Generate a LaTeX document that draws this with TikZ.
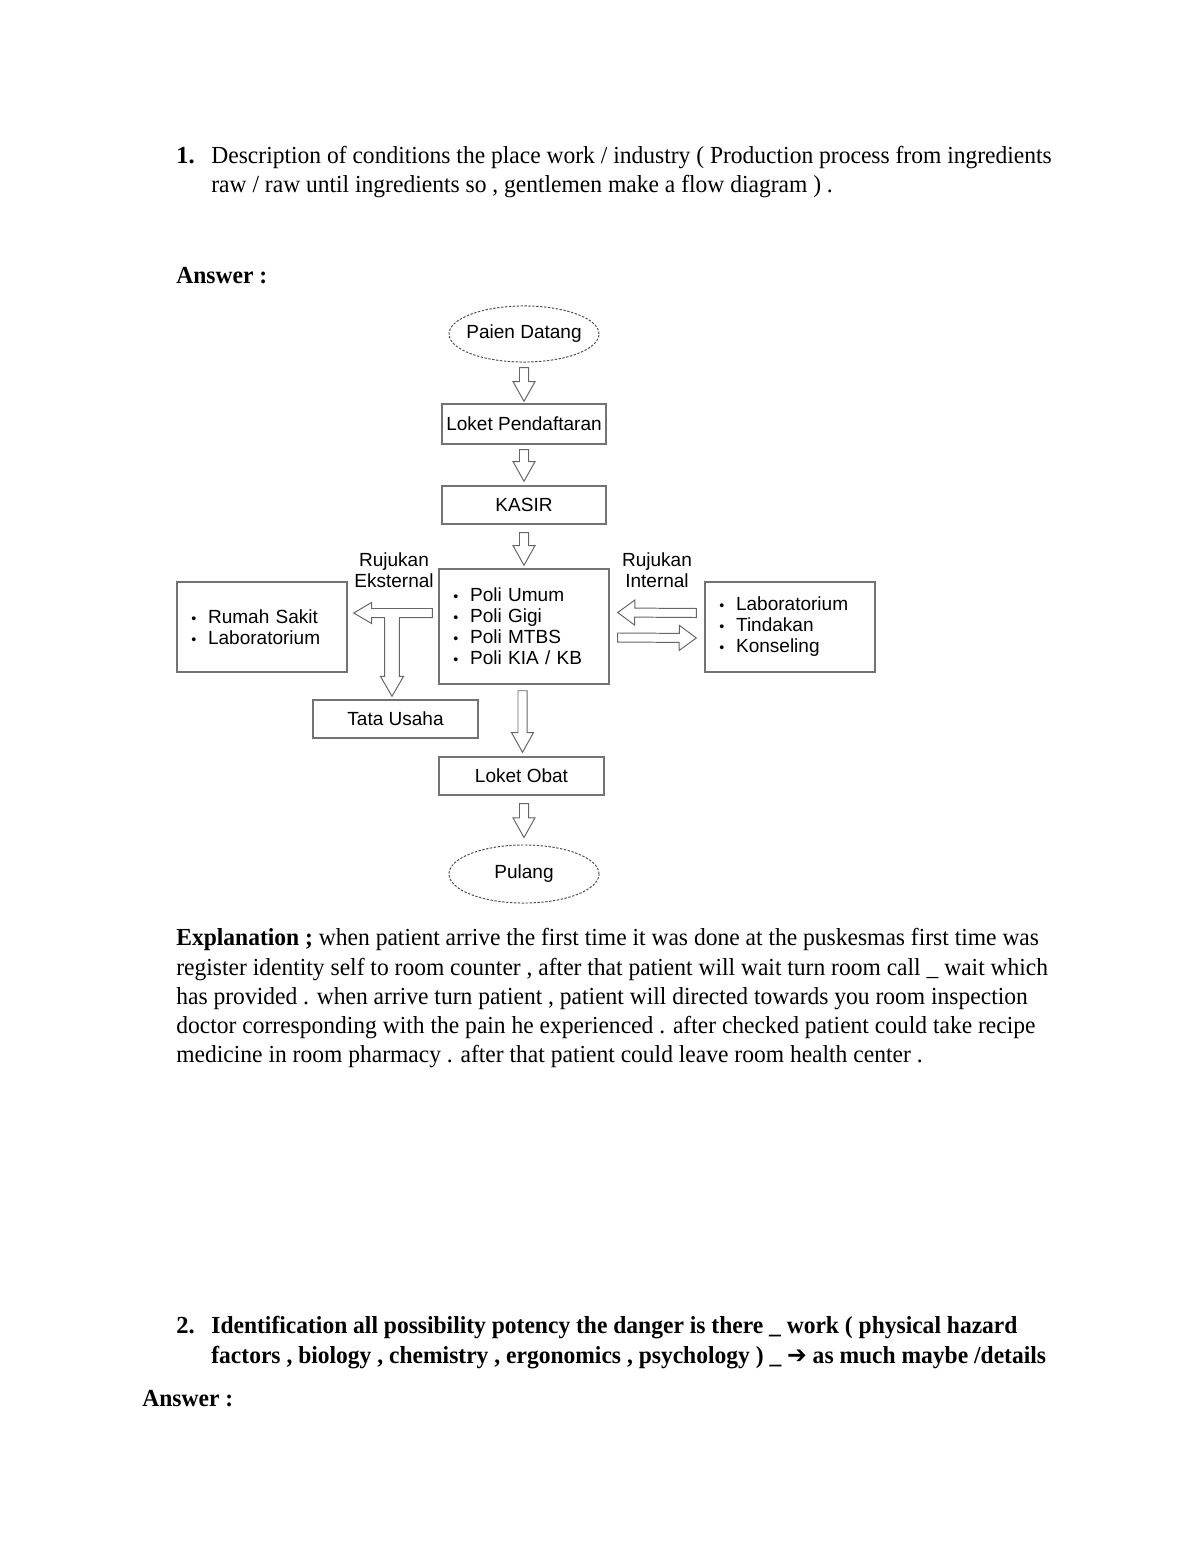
\documentclass[tikz,border=0pt]{standalone}
\usepackage{fontspec}
\setmainfont{Liberation Serif}
\newfontfamily\diagfont{Liberation Sans}
\newfontfamily\arrowfont{DejaVu Sans}
\usetikzlibrary{shapes.geometric,calc}

\newcommand\itm[1]{\makebox[8.5pt][l]{\scalebox{.75}{•}}#1}
\newcommand\cond[1]{\scalebox{.96}[1]{#1}}

\tikzset{
  shaft/.store in=\shaftw, shaft=2.3pt,
  head/.store in=\headw, head=5.6pt,
  headlen/.store in=\headl, headlen=10pt,
  hollow/.style={draw=black!60, fill=white, line width=.5pt,
    to path={(\tikztotarget) coordinate (ht) (\tikztostart) coordinate (hs)
      ($(ht)!\headl!(hs)$) coordinate (hb)
      ($(hs)!\shaftw!90:(ht)$) -- ($(hb)!\shaftw!-90:(hs)$) -- ($(hb)!\headw!-90:(hs)$)
      -- (ht) -- ($(hb)!\headw!90:(hs)$) -- ($(hb)!\shaftw!90:(hs)$)
      -- ($(hs)!\shaftw!-90:(ht)$) -- cycle}}
}

\begin{document}
\begin{tikzpicture}[x=0.51pt, y=-0.51pt,
  txt/.style={anchor=base west, inner sep=0, font=\fontsize{12.5}{15}\selectfont},
  bold/.style={txt, font=\fontsize{12.5}{15}\selectfont\bfseries},
  box/.style={draw=black!55, line width=.7pt, inner sep=0, minimum height=19.4pt,
    font=\diagfont\fontsize{9.7}{10.7}\selectfont},
  lst/.style={box, align=left, text width=72pt, minimum width=86.7pt},
  oval/.style={ellipse, draw=black!70, line width=.5pt, dash pattern=on 1.2pt off .8pt,
    inner xsep=-10pt, inner ysep=0, minimum width=76.5pt, font=\diagfont\fontsize{9.7}{10.7}\selectfont},
  lbl/.style={align=center, inner sep=0, font=\diagfont\fontsize{9.7}{10.7}\selectfont}]

  \useasboundingbox (0,0) rectangle (1200,1553);

  % question 1
  \node[bold] (n1) at (176,164) {1.};
  \node[txt] (q1a) at (211,164) {\cond{Description of conditions the place work / industry ( Production process from ingredients}};
  \node[txt] (q1b) at (211,193) {\cond{raw / raw until ingredients so , gentlemen make a flow diagram ) .}};
  \node[bold] (ans1) at (176,283) {\cond{Answer :}};

  % flow diagram
  \node[oval, minimum height=28.6pt] (paien) at (524,334) {Paien Datang};
  \node[box, minimum width=83.6pt, minimum height=20.4pt] (loket) at (524,424) {Loket Pendaftaran};
  \node[box, minimum width=83.6pt] (kasir) at (524,505) {KASIR};
  \node[lst, minimum height=58.7pt] (poli) at (524,626.5)
    {\itm{Poli Umum}\\ \itm{Poli Gigi}\\ \itm{Poli MTBS}\\ \itm{Poli KIA / KB}};
  \node[lst, minimum height=45.9pt] (rs) at (262,627) {\itm{Rumah Sakit}\\ \itm{Laboratorium}};
  \node[lst, minimum height=45.9pt] (lab) at (790,627)
    {\itm{Laboratorium}\\ \itm{Tindakan}\\ \itm{Konseling}};
  \node[box, minimum width=84.2pt] (tata) at (395.5,719) {Tata Usaha};
  \node[box, minimum width=84.2pt] (obat) at (521.5,776) {Loket Obat};
  \node[oval, minimum height=29.6pt] (pulang) at (524,874) {Pulang};

  \node[lbl] (ekstlbl) at (394,570.5) {Rujukan\\Eksternal};
  \node[lbl] (intlbl) at (657,570) {Rujukan\\Internal};

  \draw[hollow] ($(paien.south)+(0,5)$) to ($(loket.north)+(0,-2)$);
  \draw[hollow] ($(loket.south)+(0,5)$) to ($(kasir.north)+(0,-4)$);
  \draw[hollow] ($(kasir.south)+(0,8)$) to ($(poli.north)+(0,-3)$);
  \draw[hollow] ($(obat.north |- poli.south)+(1,6)$) to ($(obat.north)+(1,-4)$);
  \draw[hollow] ($(pulang.north |- obat.south)+(0,8)$) to ($(pulang.north)+(0,-7)$);

  \draw[hollow, head=6.4pt, headlen=8.7pt] ($(lab.west)+(-8,-14)$) to ($(poli.east)+(8,-14)$);
  \draw[hollow, head=6.4pt, headlen=8.7pt] ($(poli.east)+(8,11)$) to ($(lab.west)+(-8,11)$);

  \draw[hollow, head=5.4pt, headlen=9.2pt] ($(poli.west)+(-6,-13.5)$) to ($(rs.east)+(6,-14)$);
  \coordinate (ekst) at (392,617.5);
  \draw[hollow, shaft=3.8pt, head=5.9pt, headlen=10.2pt] (ekst) to ($(ekst |- tata.north)+(0,-3)$);
  \fill[white] ($(ekst)+(-7,-1)$) rectangle ($(ekst)+(7,1)$);

  % explanation
  \node[txt] (e1) at (176,945) {\cond{\textbf{Explanation ;} when patient arrive the first time it was done at the puskesmas first time was}};
  \node[txt] (e2) at (176,975) {\cond{register identity self to room counter , after that patient will wait turn room call \_ wait which}};
  \node[txt] (e3) at (176,1004) {\cond{has provided . when arrive turn patient , patient will directed towards you room inspection}};
  \node[txt] (e4) at (176,1033) {\cond{doctor corresponding with the pain he experienced . after checked patient could take recipe}};
  \node[txt] (e5) at (176,1062) {\cond{medicine in room pharmacy . after that patient could leave room health center .}};

  % question 2
  \node[bold] (n2) at (176,1333) {2.};
  \node[bold] (q2a) at (211,1333) {\cond{Identification all possibility potency the danger is there \_ work ( physical hazard}};
  \node[bold] (q2b) at (211,1363) {\cond{factors , biology , chemistry , ergonomics , psychology ) \_ {\arrowfont ➔} as much maybe /details}};
  \node[bold] (ans2) at (142,1406) {\cond{Answer :}};

\end{tikzpicture}
\end{document}
